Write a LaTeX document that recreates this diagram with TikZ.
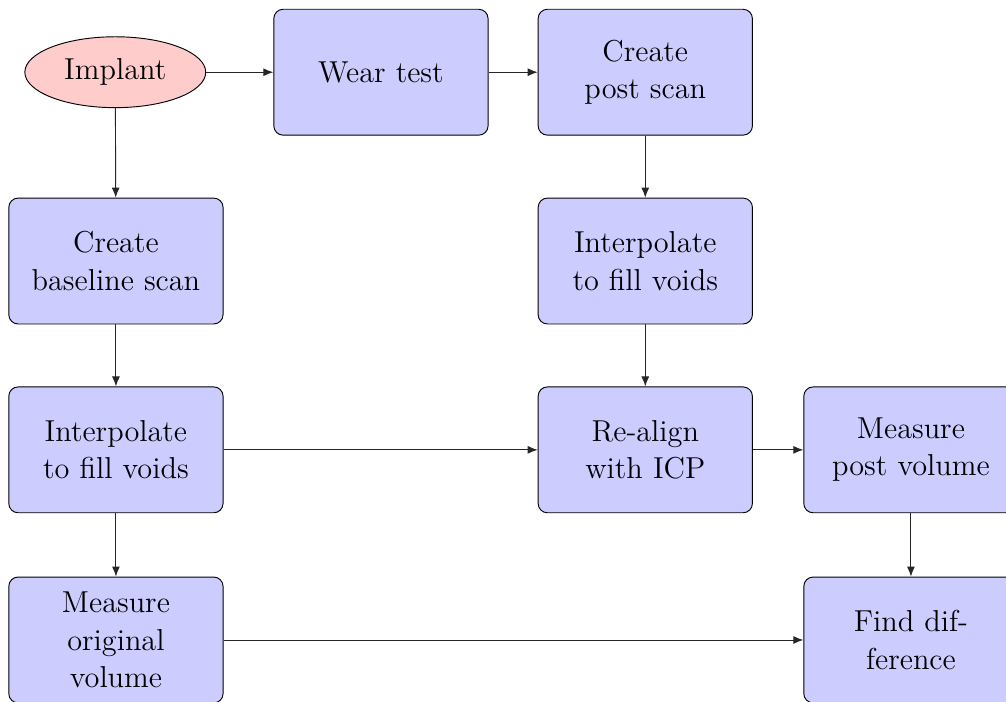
\documentclass[tikz,border=0pt]{standalone}
\usepackage{tikz}
\usetikzlibrary{shapes.geometric, arrows.meta, positioning}
\definecolor{stepblue}{RGB}{204,204,255}
\definecolor{startred}{RGB}{255,204,204}

\begin{document}
\begin{tikzpicture}[
        box/.style={rectangle, draw, rounded corners, fill=stepblue, text width=3cm, minimum width=3.2cm, minimum height=1.9cm, align=center, font=\fontsize{13}{16}\selectfont},
        start/.style={ellipse, draw, fill=startred, minimum width=2.73cm, minimum height=1.07cm, font=\fontsize{13}{16}\selectfont},
        arrow/.style={-{Latex[length=4.3pt, width=3.4pt]}, draw=black!85}
    ]
        \useasboundingbox (0,0) rectangle (15.185,-10.596);
        % Top row
        \node[start] (implant) at (1.74,-1.09) {Implant};
        \node[box] (wear) at (5.75,-1.09) {Wear test};
        \node[box] (postscan) at (9.74,-1.09) {Create\\post scan};
        
        % Second row
        \node[box] (basescan) at (1.75,-3.94) {Create\\baseline scan};
        \node[box] (interpR) at (9.74,-3.94) {Interpolate\\to fill voids};
        
        % Third row
        \node[box] (interpL) at (1.75,-6.79) {Interpolate\\to fill voids};
        \node[box] (align) at (9.74,-6.79) {Re-align\\with ICP};
        \node[box] (postvol) at (13.75,-6.79) {Measure\\post volume};
        
        % Bottom row
        \node[box] (origvol) at (1.75,-9.66) {Measure\\original\\volume};
        \node[box] (diff) at (13.75,-9.66) {Find dif-\\ference};
        
        % Arrows
        \draw[arrow] (implant) -- (wear);
        \draw[arrow] (wear) -- (postscan);
        \draw[arrow] (implant) -- (basescan);
        \draw[arrow] (basescan) -- (interpL);
        \draw[arrow] (postscan) -- (interpR);
        \draw[arrow] (interpR) -- (align);
        \draw[arrow] (interpL) -- (align);
        \draw[arrow] (align) -- (postvol);
        \draw[arrow] (interpL) -- (origvol);
        \draw[arrow] (postvol) -- (diff);
        \draw[arrow] (origvol) -- (diff);
    \end{tikzpicture}
\end{document}
